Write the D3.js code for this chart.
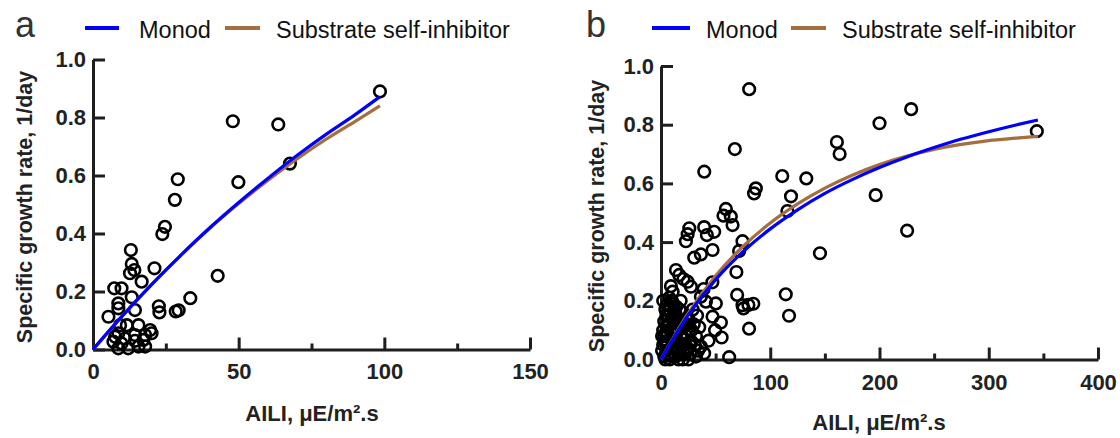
<!DOCTYPE html>
<html><head><meta charset="utf-8">
<script src="https://cdn.jsdelivr.net/npm/d3@7"></script>
<style>
html,body{margin:0;padding:0;background:#fff;}
text{font-family:"Liberation Sans",Arial,Helvetica,sans-serif;}
</style></head>
<body>
<svg id="chart" width="1120" height="438"></svg>
<script>
// ---------- DATA ----------
const seriesNames = ["Monod", "Substrate self-inhibitor"];
const panelLabels = ["a", "b"];
const xTitle = "AILI, μE/m².s";
const yTitle = "Specific growth rate, 1/day";

const xTicksA = [0, 50, 100, 150];
const xMinorA = [25, 75, 125];
const xTicksB = [0, 100, 200, 300, 400];
const xMinorB = [50, 150, 250, 350];
const yTicks = [0, 0.2, 0.4, 0.6, 0.8, 1.0];

// Fitted curves
const curveXA = [0, 10, 20, 30, 40, 50, 60, 70, 80, 90, 98.5];
const monodA = [0, 0.115, 0.223, 0.324, 0.419, 0.507, 0.59, 0.669, 0.742, 0.81, 0.872];
const ssiA   = [0, 0.115, 0.223, 0.323, 0.417, 0.503, 0.583, 0.657, 0.725, 0.787, 0.84];

const curveXB = [0, 25, 50, 75, 100, 125, 150, 175, 200, 225, 250, 275, 300, 325, 345];
const monodB = [0, 0.152, 0.272, 0.367, 0.445, 0.51, 0.566, 0.613, 0.654, 0.69, 0.722, 0.751, 0.776, 0.799, 0.816];
const ssiB   = [0, 0.158, 0.285, 0.385, 0.465, 0.53, 0.584, 0.628, 0.664, 0.693, 0.716, 0.733, 0.746, 0.754, 0.76];

// Observations panel a [AILI, growth rate]
const obsA = [
 [98.5,0.89],[48,0.787],[63.6,0.776],[67.6,0.641],[49.9,0.577],[29.1,0.587],[28.1,0.516],
 [24.7,0.423],[23.8,0.398],[42.8,0.254],[33.4,0.177],[21.1,0.28],[13.0,0.343],[13.3,0.295],
 [14.2,0.274],[12.7,0.263],[16.7,0.234],[7.3,0.211],[9.8,0.211],[13.3,0.18],[8.7,0.159],
 [8.7,0.142],[14.4,0.136],[22.6,0.149],[22.8,0.128],[5.3,0.113],[28.4,0.131],[29.4,0.135],
 [9.3,0.084],[11.6,0.084],[15.6,0.084],[8.7,0.056],[7.6,0.044],[14.4,0.05],[19.6,0.067],
 [17.9,0.05],[20.1,0.056],[7.0,0.027],[9.8,0.021],[12.1,0.004],[15.6,0.01],[17.9,0.01],
 [8.7,0.004],[14.4,0.03],[17.3,0.033],[11,0.038]
];

// Observations panel b [AILI, growth rate]
const obsB = [
 [80.7,0.921],[67.6,0.717],[39.6,0.64],[111,0.625],[133,0.617],[161,0.741],[163.5,0.7],
 [200,0.805],[229,0.853],[344,0.778],[196.5,0.56],[225.3,0.439],
 [86.8,0.583],[85.2,0.566],[119,0.556],[115.7,0.506],
 [59.4,0.513],[57.2,0.49],[63.9,0.487],[65.5,0.458],
 [25.9,0.447],[24.4,0.427],[22.8,0.403],[39.5,0.451],[42,0.424],[48.7,0.435],
 [47.2,0.373],[74.6,0.403],[71.5,0.37],[145.5,0.362],[30.4,0.347],[36.5,0.358],
 [13.7,0.305],[16.7,0.288],[20.5,0.274],[24.4,0.265],[27.4,0.248],
 [9.1,0.25],[10.7,0.231],[7.6,0.21],
 [47,0.263],[39,0.24],[36.5,0.214],[41.1,0.197],[50.2,0.191],
 [69,0.298],[69.7,0.22],[74.6,0.185],[75.5,0.174],[80,0.186],[84.5,0.19],
 [114.2,0.222],[117.2,0.149],[80.6,0.105],
 [54.8,0.126],[49.5,0.1],[55.5,0.075],[43.5,0.064],[47.2,0.146],
 [62.4,0.008],[36.5,0.044],[39.5,0.021],[32,0.01],
 [3,0.01],[5,0.03],[4,0.06],[6,0.09],[7,0.12],[5,0.15],[8,0.17],[10,0.14],[12,0.11],
 [9,0.07],[11,0.04],[13,0.01],[15,0.03],[14,0.07],[16,0.1],[18,0.13],[20,0.16],[22,0.12],
 [19,0.08],[17,0.05],[21,0.02],[24,0.04],[23,0.08],[26,0.1],[28,0.06],[25,0.14],[30,0.12],
 [27,0.02],[32,0.08],[34,0.03],[2,0.1],[3,0.13],[6,0.19],[10,0.2],[14,0.18],[18,0.2],
 [12,0.16],[29,0.17],[33,0.15],[8,0.0],[16,0.0],[20,0.0],[35,0.11],[1,0.03],[4,0.0],
 [2,0.05],[3,0.08],[5,0.11],[7,0.02],[9,0.1],[11,0.13],[13,0.16],[15,0.12],[17,0.17],
 [19,0.11],[21,0.07],[23,0.03],[25,0.0],[26,0.06],[28,0.1],[31,0.05],[6,0.05],[10,0.01],
 [12,0.07],[14,0.1],[16,0.06],[18,0.02],[22,0.05],[24,0.12],[7,0.15],[9,0.18],[4,0.17],
 [11,0.19],[2,0.2],[1,0.08]
];

// ---------- STYLE / LAYOUT ----------
const colMonod = "#0000ff";
const colSSI = "#a46f3c";
const axisCol = "#1e1e1e";

const panels = [
  {label: panelLabels[0], xDomain:[0,150], xr:[93,530], yr:[349.5,59.5], xt:xTicksA, xm:xMinorA,
   cx:curveXA, m:monodA, s:ssiA, obs:obsA, tickPadX:14, xTitleY:421, xTitleX:312, yTitleX:24, yTitleY:207,
   legend:{lab:15, l1:[85,119], t1:139, l2:[225,260], t2:276}},
  {label: panelLabels[1], xDomain:[0,400], xr:[661,1098], yr:[359.5,66], xt:xTicksB, xm:xMinorB,
   cx:curveXB, m:monodB, s:ssiB, obs:obsB, tickPadX:15, xTitleY:430, xTitleX:879, yTitleX:596, yTitleY:216,
   legend:{lab:586, l1:[652,690], t1:706, l2:[791,826], t2:842}}
];

const svg = d3.select("#chart");

panels.forEach(p => {
  const g = svg.append("g");
  const x = d3.scaleLinear().domain(p.xDomain).range(p.xr);
  const y = d3.scaleLinear().domain([0,1]).range(p.yr);

  // axes
  const xAxis = d3.axisBottom(x).tickValues(p.xt).tickSizeInner(-12).tickSizeOuter(0).tickPadding(p.tickPadX).tickFormat(d3.format("d"));
  const gx = g.append("g").attr("transform", `translate(0,${p.yr[0]})`).call(xAxis);
  const xMinor = d3.axisBottom(x).tickValues(p.xm).tickSizeInner(-6).tickSizeOuter(0).tickFormat("");
  const gxm = g.append("g").attr("transform", `translate(0,${p.yr[0]})`).call(xMinor);
  gxm.select(".domain").remove();

  const yAxis = d3.axisLeft(y).tickValues(yTicks).tickSizeInner(-12).tickSizeOuter(0).tickPadding(7).tickFormat(d3.format(".1f"));
  const gy = g.append("g").attr("transform", `translate(${p.xr[0]},0)`).call(yAxis);

  [gx, gxm, gy].forEach(a => {
    a.selectAll(".domain").attr("stroke", axisCol).attr("stroke-width", 3);
    a.selectAll(".tick line").attr("stroke", axisCol).attr("stroke-width", 3);
    a.selectAll(".tick text").attr("fill", "#222").style("font-size", "22px").style("font-weight", "bold");
  });

  // points
  g.append("g").selectAll("circle").data(p.obs).join("circle")
    .attr("cx", d => x(d[0])).attr("cy", d => y(d[1])).attr("r", 5.8)
    .attr("fill", "none").attr("stroke", "#000").attr("stroke-width", 2.6);

  // curves
  const line = d3.line().x(d => x(d[0])).y(d => y(d[1])).curve(d3.curveMonotoneX);
  g.append("path").datum(p.cx.map((v,i)=>[v,p.s[i]])).attr("d", line)
    .attr("fill","none").attr("stroke", colSSI).attr("stroke-width", 3.2);
  g.append("path").datum(p.cx.map((v,i)=>[v,p.m[i]])).attr("d", line)
    .attr("fill","none").attr("stroke", colMonod).attr("stroke-width", 3.2);

  // titles
  g.append("text").attr("x", p.xTitleX).attr("y", p.xTitleY).attr("text-anchor","middle")
    .style("font-size","22px").style("font-weight","bold").attr("fill","#222")
    .text(xTitle);
  g.append("text").attr("transform", `translate(${p.yTitleX},${p.yTitleY}) rotate(-90)`)
    .attr("text-anchor","middle").attr("dy","0.35em")
    .style("font-size","21.5px").style("font-weight","bold").attr("fill","#222")
    .text(yTitle);

  // legend
  const L = p.legend;
  g.append("text").attr("x", L.lab).attr("y", 37).style("font-size","36px").attr("fill","#333").text(p.label);
  g.append("line").attr("x1",L.l1[0]).attr("x2",L.l1[1]).attr("y1",28).attr("y2",28)
    .attr("stroke",colMonod).attr("stroke-width",4);
  g.append("text").attr("x", L.t1).attr("y", 37.5).style("font-size","23.5px").attr("fill","#111").text(seriesNames[0]);
  g.append("line").attr("x1",L.l2[0]).attr("x2",L.l2[1]).attr("y1",28).attr("y2",28)
    .attr("stroke",colSSI).attr("stroke-width",4);
  g.append("text").attr("x", L.t2).attr("y", 37.5).style("font-size","23.5px").attr("fill","#111").text(seriesNames[1]);
});
</script>
</body></html>
